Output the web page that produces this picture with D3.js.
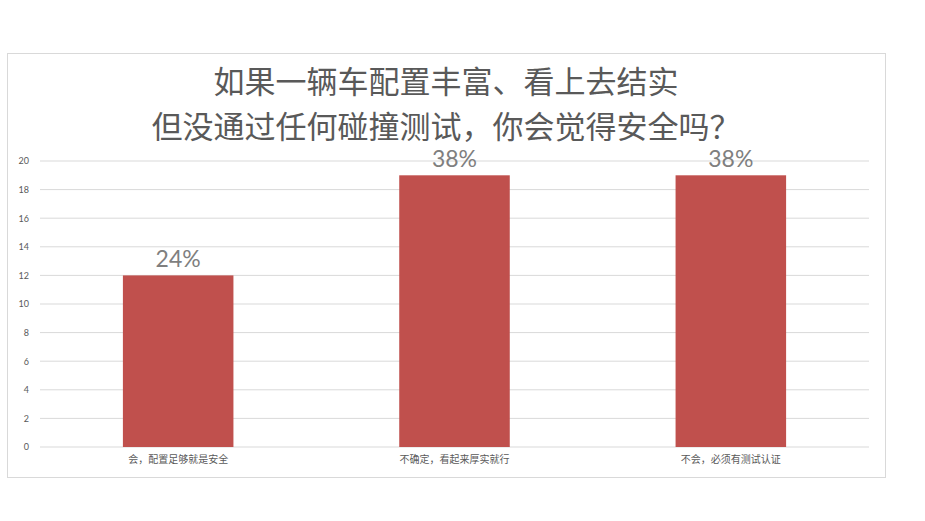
<!DOCTYPE html>
<html>
<head>
<meta charset="utf-8">
<script src="https://cdn.jsdelivr.net/npm/d3@7"></script>
<style>
  body { margin: 0; background: #fff; }
  text { font-family: "Noto Sans CJK SC", "Noto Sans", sans-serif; }
</style>
</head>
<body>
<div id="chart"></div>
<script>
const titleLines = ["如果一辆车配置丰富、看上去结实", "但没通过任何碰撞测试，你会觉得安全吗？"];
const categories = ["会，配置足够就是安全", "不确定，看起来厚实就行", "不会，必须有测试认证"];
const counts = [12, 19, 19];
const percentLabels = ["24%", "38%", "38%"];
const yTicks = [0, 2, 4, 6, 8, 10, 12, 14, 16, 18, 20];

const W = 925, H = 521;
const margin = { top: 161, right: 56, bottom: 74, left: 40 };
const width = W - margin.left - margin.right,
  height = H - margin.top - margin.bottom;

const svg = d3.select("#chart").append("svg")
  .attr("width", W).attr("height", H);

// chart frame
svg.append("rect")
  .attr("x", 7.5).attr("y", 53.5)
  .attr("width", 878).attr("height", 424)
  .attr("fill", "#fff")
  .attr("stroke", "#d9d9d9");

svg.append("g")
  .selectAll("text")
  .data(titleLines)
  .enter()
  .append("text")
  .attr("x", 446)
  .attr("y", (d, i) => 93 + i * 45)
  .attr("text-anchor", "middle")
  .attr("font-size", 31)
  .attr("fill", "#595959")
  .text(d => d);

const g = svg.append("g")
  .attr("transform", "translate(" + margin.left + "," + margin.top + ")");

const x = d3.scaleBand()
  .domain(categories)
  .range([0, width])
  .paddingInner(0.6)
  .paddingOuter(0.3);

const y = d3.scaleLinear()
  .domain([0, 20])
  .range([height, 0]);

// gridlines
g.append("g")
  .selectAll("line")
  .data(yTicks)
  .enter()
  .append("line")
  .attr("x1", 0).attr("x2", width)
  .attr("y1", d => y(d)).attr("y2", d => y(d))
  .attr("stroke", "#d9d9d9")
  .attr("stroke-width", 1);

const yAxis = g.append("g")
  .call(d3.axisLeft(y).tickValues(yTicks).tickSize(0).tickPadding(11));
yAxis.select(".domain").remove();
yAxis.selectAll("text")
  .attr("font-size", 9)
  .attr("fill", "#595959")
  .style("font-family", "Lato, \"Noto Sans\", sans-serif");

g.selectAll(".bar")
  .data(counts)
  .enter()
  .append("rect")
  .attr("class", "bar")
  .attr("x", (d, i) => x(categories[i]))
  .attr("y", d => y(d))
  .attr("width", x.bandwidth())
  .attr("height", d => height - y(d))
  .attr("fill", "#c0504d");

g.selectAll(".pct")
  .data(counts)
  .enter()
  .append("text")
  .attr("class", "pct")
  .attr("x", (d, i) => x(categories[i]) + x.bandwidth() / 2)
  .attr("y", d => y(d) - 8)
  .attr("text-anchor", "middle")
  .attr("font-size", 23)
  .attr("fill", "#7f7f7f")
  .style("font-family", "Lato, \"Noto Sans\", sans-serif")
  .text((d, i) => percentLabels[i]);

const xAxis = g.append("g")
  .attr("transform", "translate(0," + height + ")")
  .call(d3.axisBottom(x).tickSize(0).tickPadding(9));
xAxis.select(".domain").remove();
xAxis.selectAll("text")
  .attr("font-size", 10)
  .attr("fill", "#595959");
</script>
</body>
</html>
